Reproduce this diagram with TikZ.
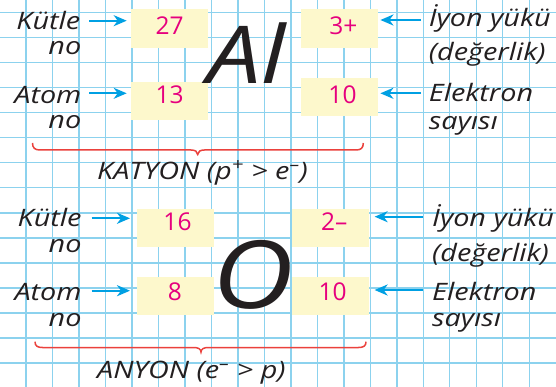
\documentclass[tikz,border=0pt]{standalone}
\usepackage{fontspec}
\setmainfont{Open Sans}
\newfontfamily\widefont[FakeStretch=1.2]{Open Sans}
\usetikzlibrary{calc,arrows.meta}
\definecolor{gridc}{RGB}{140,210,238}
\definecolor{boxc}{RGB}{253,248,204}
\definecolor{numc}{RGB}{230,0,126}
\definecolor{arrc}{RGB}{0,160,227}
\definecolor{bracec}{RGB}{235,65,60}
\definecolor{txtc}{RGB}{35,31,32}
\begin{document}
\begin{tikzpicture}[x=1pt,y=-1pt,
  lbl/.style={font=\widefont\fontsize{24}{28}\selectfont\itshape, text=txtc, inner sep=0pt},
  lbll/.style={lbl, anchor=base east},
  lblr/.style={lbl, anchor=base west},
  numbox/.style={fill=boxc, minimum width=77pt, minimum height=38.5pt, inner sep=0pt},
  num/.style={font=\fontsize{24.5}{28}\selectfont, text=numc, inner sep=0pt, anchor=base},
  arr/.style={draw=arrc, line width=2.2pt, -{Stealth[length=13pt,width=11pt,inset=4pt]}},
  brc/.style={draw=bracec, line width=1.5pt},
  elem/.style={text=txtc, inner sep=0pt, anchor=base west},
  gridline/.style={draw=gridc, line width=1.3pt}
]
\useasboundingbox (0,0) rectangle (556,387);
\fill[white] (0,0) rectangle (556,387);
\foreach \k in {1,...,20} \draw[gridline] ({26.49*\k-0.5},0) -- ({26.49*\k-0.5},387);
\foreach \k in {0,...,14} \draw[gridline] (0,{12.7+25.02*\k}) -- (556,{12.7+25.02*\k});

% ---------- Al ----------
\node[numbox] (b27) at (169.7,28.3) {};
\node[numbox] (b13) at (169.7,101.2) {};
\node[numbox] (b3p) at (339.7,28.3) {};
\node[numbox] (b10a) at (339.7,97.2) {};
\node[num] (n27) at (169.7,34.3) {27};
\node[num] (n13) at (169.7,103.3) {13};
\node[num] (n3p) at (343.3,35) {3+};
\node[num] (n10a) at (342.5,103.3) {10};

\node[elem, font=\widefont\fontsize{80}{90}\selectfont\itshape] (al) at (207,84) {Al};

\node[lbll] (kt1) at (80.5,29.3) {Kütle};
\node[lbll] (no1) at (81.5,55) {no};
\node[lbll] (at1) at (81.5,103.3) {Atom};
\node[lbll] (no2) at (81.5,128.3) {no};
\node[lblr] (iy1) at (428.7,26.7) {İyon yükü};
\node[lblr] (de1) at (428.7,61) {(değerlik)};
\node[lblr] (el1) at (428.7,101.7) {Elektron};
\node[lblr] (sa1) at (428.7,130) {sayısı};

\draw[arr] ($(kt1.base east)+(8.8,-8.6)$) -- ($(kt1.base east -| b27.west)+(-4.3,-8.6)$);
\draw[arr] ($(at1.base east)+(7.8,-10)$) -- ($(at1.base east -| b13.west)+(-4.3,-10)$);
\draw[arr] ($(iy1.base west)+(-7.7,-6.7)$) -- ($(iy1.base west -| b3p.east)+(2,-6.7)$);
\draw[arr] ($(el1.base west)+(-7.7,-8.4)$) -- ($(el1.base west -| b10a.east)+(2,-8.4)$);

\draw[brc] (32.5,143) .. controls (32.5,148) and (35,150) .. (40,150) -- (191,150)
  .. controls (195,150) and (197.7,151.5) .. (197.7,154.5)
  .. controls (197.7,151.5) and (200.4,150) .. (204.4,150) -- (356,150)
  .. controls (361,150) and (363.3,148) .. (363.3,143);
\node[lblr] (kat) at (97,180) {KATYON (p\textsuperscript{+} > e\textsuperscript{–})};

% ---------- O ----------
\node[numbox] (b16) at (175.3,228.2) {};
\node[numbox] (b8) at (175.3,296.2) {};
\node[numbox] (b2m) at (330.3,228.2) {};
\node[numbox] (b10b) at (330.3,296.2) {};
\node[num] (n16) at (177.5,230.7) {16};
\node[num] (n8) at (175,300.7) {8};
\node[num] (n2m) at (334.3,230.7) {2–};
\node[num] (n10b) at (332.7,300.5) {10};

\node[elem, font=\widefont\fontsize{94}{100}\selectfont\itshape] (ox) at (212.5,308.5) {O};

\node[lbll] (kt2) at (81.7,226) {Kütle};
\node[lbll] (no3) at (81.7,252.7) {no};
\node[lbll] (at2) at (81.7,300) {Atom};
\node[lbll] (no4) at (81.7,326) {no};
\node[lblr] (iy2) at (432,226) {İyon yükü};
\node[lblr] (de2) at (432,261.7) {(değerlik)};
\node[lblr] (el2) at (432,300) {Elektron};
\node[lblr] (sa2) at (432,326.7) {sayısı};

\draw[arr] ($(kt2.base east)+(10,-7.7)$) -- ($(kt2.base east -| b16.west)+(-6.6,-7.7)$);
\draw[arr] ($(at2.base east)+(10,-9.3)$) -- ($(at2.base east -| b8.west)+(-6.6,-9.3)$);
\draw[arr] ($(iy2.base west)+(-9.3,-9.3)$) -- ($(iy2.base west -| b2m.east)+(5.6,-9.3)$);
\draw[arr] ($(el2.base west)+(-9.3,-10)$) -- ($(el2.base west -| b10b.east)+(5.6,-10)$);

\draw[brc] (35,341.7) .. controls (35,346) and (37.5,347.5) .. (42.5,347.5) -- (194,347.5)
  .. controls (198,347.5) and (201,349) .. (201,352)
  .. controls (201,349) and (204,347.5) .. (208,347.5) -- (358.5,347.5)
  .. controls (363.5,347.5) and (366,346) .. (366,341.7);
\node[lblr] (any) at (97,378.3) {ANYON (e\textsuperscript{–} > p)};
\end{tikzpicture}
\end{document}
